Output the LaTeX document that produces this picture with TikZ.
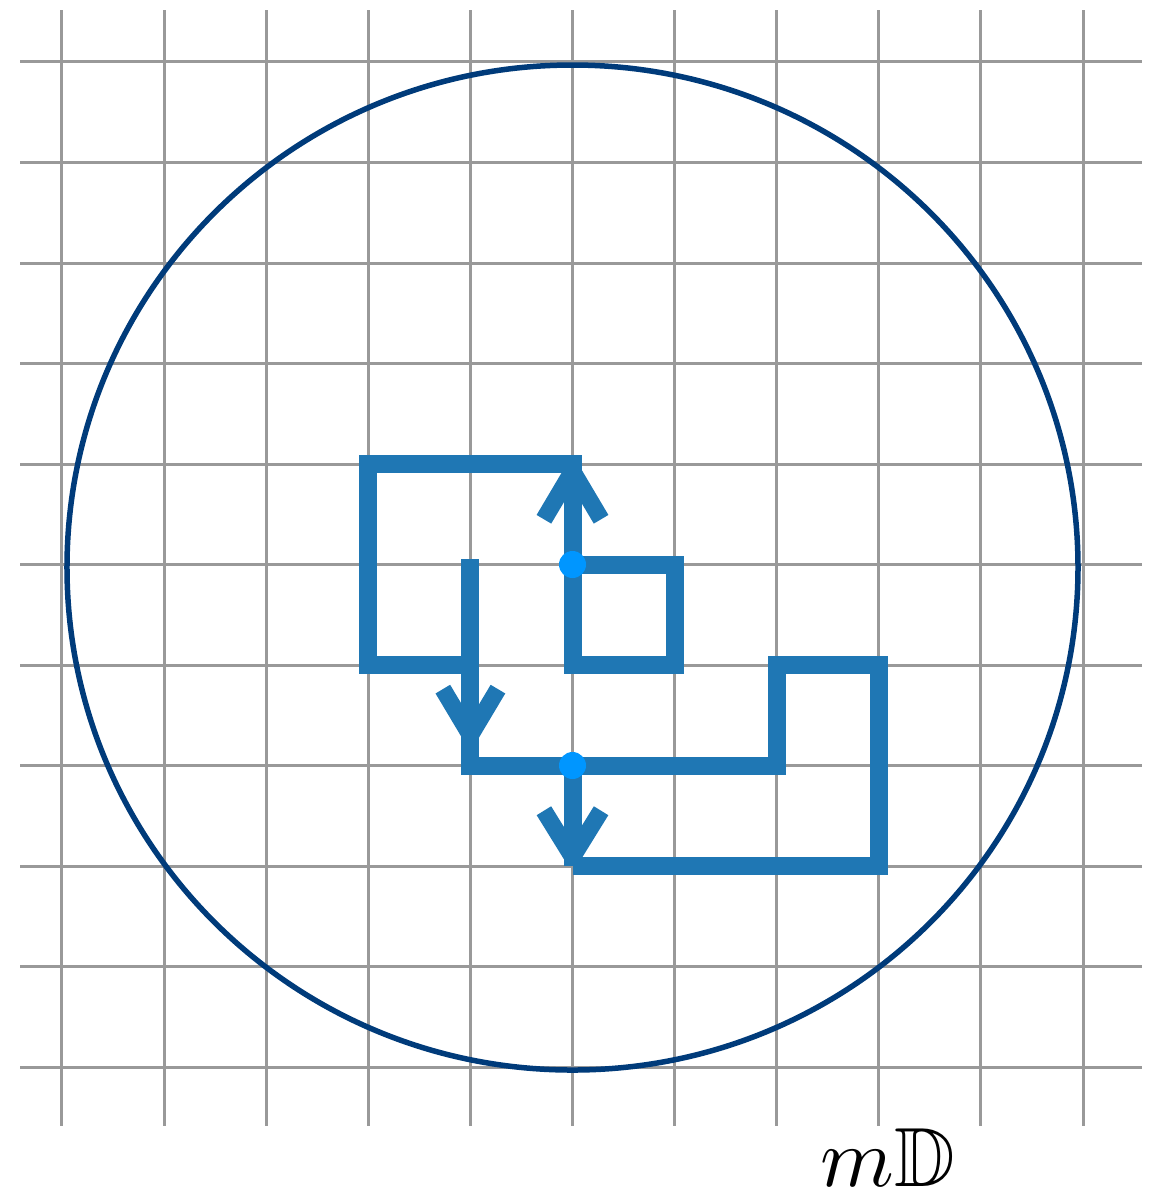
\documentclass[tikz,border=0pt]{standalone}
\usepackage{graphicx}
\usepackage{amssymb}
\usetikzlibrary{calc}
\definecolor{gridgray}{RGB}{153,153,153}
\definecolor{discblue}{RGB}{0,59,122}
\definecolor{walkblue}{RGB}{31,119,180}
\definecolor{dotblue}{RGB}{0,150,255}
\tikzset{
  gridline/.style={draw=gridgray, line width=3pt},
  disc/.style={draw=discblue, line width=5.5pt},
  walk/.style={draw=walkblue, line width=18pt, line join=miter, line cap=butt},
  arrowarm/.style={draw=walkblue, line width=17pt, line join=round, line cap=butt},
  walkdot/.style={fill=dotblue}
}
\begin{document}
\begin{tikzpicture}[x=102.1pt, y=-100.5pt]
\useasboundingbox (-0.6072,-0.6169) rectangle (10.7248,11.2736);
% grid
\foreach \i in {0,...,10} {
  \draw[gridline] (\i,-0.517) -- (\i,10.587);
  \draw[gridline] (-0.411,\i) -- (10.578,\i);
}
% disc
\coordinate (c) at (5,5.03);
\draw[disc] (c) ellipse [x radius=505.5pt, y radius=502.5pt];
% walk
\draw[walk] (5,5) -- (5,4) -- (3,4) -- (3,6) -- (4,6);
\draw[walk] (4,4.95) -- (4,7) -- (7,7) -- (7,6) -- (8,6) -- (8,8) -- (5,8);
\draw[walk] (5,7) -- (5,8);
\draw[walk] (5,5) -- (6,5) -- (6,6) -- (5,6) -- cycle;
% arrowheads
\coordinate (up) at (5,4.07);
\coordinate (dnA) at (4,6.70);
\coordinate (dnB) at (5,7.91);
\draw[arrowarm] ($(up)+(-0.28,0.48)$) -- (up) -- ($(up)+(0.28,0.48)$);
\draw[arrowarm] ($(dnA)+(-0.27,-0.46)$) -- (dnA) -- ($(dnA)+(0.27,-0.46)$);
\draw[arrowarm] ($(dnB)+(-0.28,-0.46)$) -- (dnB) -- ($(dnB)+(0.28,-0.46)$);
% dots
\fill[walkdot] (5,5) circle [radius=13.5pt];
\fill[walkdot] (5,7) circle [radius=13.5pt];
% label
\node[anchor=base, inner sep=0pt] (lbl) at (8.09,11.19) {\scalebox{8.4}{$m\mathbb{D}$}};
\end{tikzpicture}
\end{document}
